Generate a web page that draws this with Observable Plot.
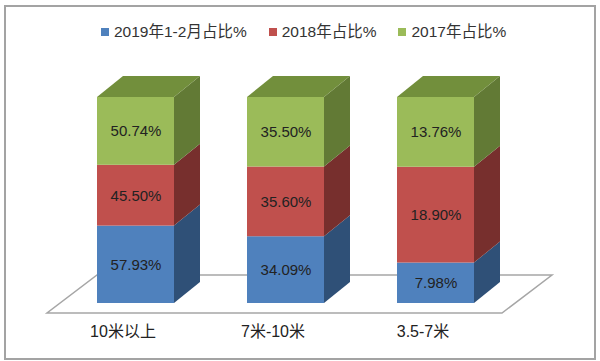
<!DOCTYPE html>
<html>
<head>
<meta charset="utf-8">
<script src="https://cdn.jsdelivr.net/npm/d3@7"></script>
<script src="https://cdn.jsdelivr.net/npm/@observablehq/plot@0.6"></script>
<style>
  html, body { margin: 0; padding: 0; background: #fff; }
  #wrap { position: relative; width: 600px; height: 361px; overflow: hidden; font-family: "Liberation Sans", "Noto Sans CJK SC", sans-serif; }
  #frame { position: absolute; left: 4px; top: 5px; width: 588px; height: 351px; border: 2px solid #a3a3a3; }
  #legend { position: absolute; left: 101px; top: 19px; display: flex; align-items: center; font-size: 15.5px; color: #333; white-space: nowrap; }
  #legend .item { display: flex; align-items: center; margin-right: 22px; }
  #legend .sw { width: 8px; height: 8px; margin-right: 5px; margin-top: 3px; }
  #chart { position: absolute; left: 0; top: 0; }
</style>
</head>
<body>
<div id="wrap">
  <div id="frame"></div>
  <div id="chart"></div>
  <div id="legend"></div>
</div>
<script>
// ---- data ----
const categories = ["10米以上", "7米-10米", "3.5-7米"];
const seriesNames = ["2019年1-2月占比%", "2018年占比%", "2017年占比%"];
const values2019 = [57.93, 34.09, 7.98];
const values2018 = [45.50, 35.60, 18.90];
const values2017 = [50.74, 35.50, 13.76];
const seriesValues = [values2019, values2018, values2017];
const frontColors = ["#4f81bd", "#c0504d", "#9bbb59"];
const sideColors = ["#2f5077", "#772f2d", "#627a35"];
const topColor = "#728f3c";

// table for Plot
const rows = [];
seriesNames.forEach((s, j) => categories.forEach((c, i) => rows.push({cat: c, series: s, value: seriesValues[j][i]})));

// normalized stack bounds for the 3D faces
const stacks = [];
categories.forEach((c, i) => {
  const total = seriesValues.reduce((a, v) => a + v[i], 0);
  let acc = 0;
  seriesValues.forEach((v, j) => {
    const y1 = acc / total; acc += v[i]; const y2 = acc / total;
    stacks.push({cat: c, j, y1, y2});
  });
});

const DX = 26, DY = 21; // depth of 3D bars

function floorMark(index, scales, values, dims) {
  const x = scales.x;
  const y = scales.y;
  const [r0, r1] = x.range();
  const base = y(0);
  const ns = "http://www.w3.org/2000/svg";
  const g = document.createElementNS(ns, "g");
  const p = document.createElementNS(ns, "path");
  const fl = r0 + 26.5, fr = r1 - 48.5, fy = base + 10, by = base - 28;
  p.setAttribute("d", `M${fl},${fy}L${fr},${fy}L${fr + 50},${by}L${fl + 50},${by}Z`);
  p.setAttribute("fill", "#fff");
  p.setAttribute("stroke", "#a6a6a6");
  p.setAttribute("stroke-width", "1.5");
  g.appendChild(p);
  return g;
}

function depthMark(index, scales, values, dims) {
  const x = scales.x;
  const y = scales.y;
  const bw = x.bandwidth ? x.bandwidth() : 77;
  const ns = "http://www.w3.org/2000/svg";
  const g = document.createElementNS(ns, "g");
  for (const s of stacks) {
    const xl = x(s.cat), xr = xl + bw;
    const ya = y(s.y1), yb = y(s.y2);
    const side = document.createElementNS(ns, "path");
    side.setAttribute("d", `M${xr},${ya}L${xr + DX},${ya - DY}L${xr + DX},${yb - DY}L${xr},${yb}Z`);
    side.setAttribute("fill", sideColors[s.j]);
    g.appendChild(side);
    if (s.j === seriesNames.length - 1) {
      const top = document.createElementNS(ns, "path");
      top.setAttribute("d", `M${xl},${yb}L${xl + DX},${yb - DY}L${xr + DX},${yb - DY}L${xr},${yb}Z`);
      top.setAttribute("fill", topColor);
      g.appendChild(top);
    }
  }
  return g;
}

const chart = Plot.plot({
  width: 600,
  height: 361,
  marginLeft: 20.5,
  marginRight: 49.5,
  marginTop: 97,
  marginBottom: 58,
  style: {background: "transparent", fontFamily: "'Liberation Sans', 'Noto Sans CJK SC', sans-serif"},
  x: {domain: categories, paddingInner: 0.49, paddingOuter: 0.5, axis: null},
  y: {domain: [0, 1], axis: null},
  color: {domain: seriesNames, range: frontColors},
  marks: [
    floorMark,
    Plot.barY(rows, Plot.stackY({x: "cat", y: "value", fill: "series", offset: "normalize", inset: 0})),
    depthMark,
    Plot.text(rows, Plot.stackY({x: "cat", y: "value", offset: "normalize", text: d => d.value.toFixed(2) + "%", fill: "#222", fontSize: 15})),
    Plot.text(categories, {x: d => d, text: d => d, frameAnchor: "bottom", dy: 33, dx: -13, fontSize: 16, fill: "#222"})
  ]
});
document.getElementById("chart").appendChild(chart);

const legend = document.getElementById("legend");
seriesNames.forEach((s, j) => {
  const it = document.createElement("div");
  it.className = "item";
  const sw = document.createElement("span");
  sw.className = "sw";
  sw.style.background = frontColors[j];
  const t = document.createElement("span");
  t.textContent = s;
  it.appendChild(sw); it.appendChild(t);
  legend.appendChild(it);
});
</script>
</body>
</html>
